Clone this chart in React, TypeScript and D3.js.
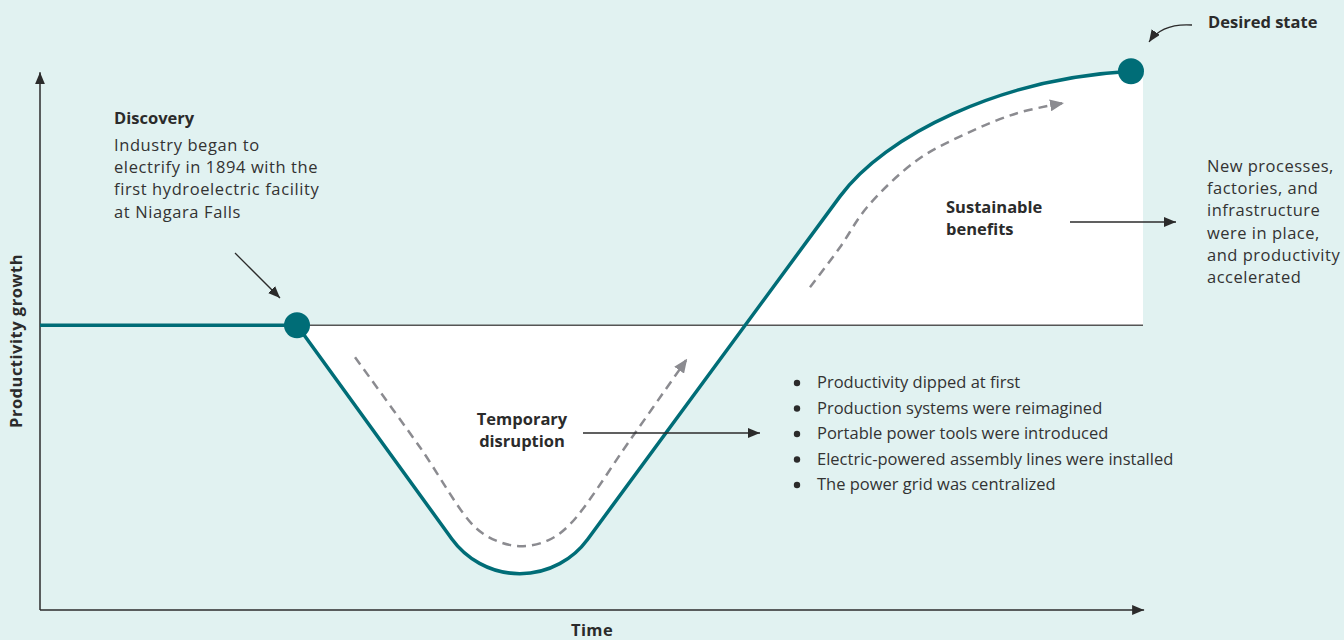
import { FC } from 'react';
import * as d3 from 'd3';

// key points of the productivity curve (time 0-100, productivity relative to baseline 0)
const flatTime = [0, 23.3];
const flatValue = [0, 0];
// discovery -> trough (virtual corner of the V) -> bend start -> bezier controls -> desired state
const pathTime = [23.3, 43.46, 72.53, 76.61, 87.04, 98.91];
const pathValue = [0, -120.7, 50.7, 74.7, 97.1, 99.9];

// dashed trend arrows
const dipTime = [28.56, 34.45, 39.44, 41.7, 43.79, 46.06, 48.05, 53.49, 58.57];
const dipValue = [-12.6, -48.0, -79.4, -85.3, -86.9, -84.6, -78.3, -45.2, -13.8];
const riseTime = [69.81, 72.53, 74.98, 79.51, 84.04, 88.58, 92.66];
const riseValue = [14.9, 30.7, 46.4, 64.9, 75.5, 83.4, 87.3];

const discoveryTitle = 'Discovery';
const discoveryLines = ['Industry began to', 'electrify in 1894 with the', 'first hydroelectric facility', 'at Niagara Falls'];
const desiredLabel = 'Desired state';
const sustainLines = ['Sustainable', 'benefits'];
const resultLines = ['New processes,', 'factories, and', 'infrastructure', 'were in place,', 'and productivity', 'accelerated'];
const disruptLines = ['Temporary', 'disruption'];
const bullets = [
    'Productivity dipped at first',
    'Production systems were reimagined',
    'Portable power tools were introduced',
    'Electric-powered assembly lines were installed',
    'The power grid was centralized',
];

const W = 1344;
const H = 640;
const teal = '#006d77';
const ink = '#2b2b2b';
const gray = '#8b8b90';
const bg = '#e1f2f1';
const font = '"Open Sans", Lato, sans-serif';
const fs = 16.5;

const App: FC = () => {
    const x = d3.scaleLinear().domain([0, 100]).range([40, 1143]);
    const y = d3.scaleLinear().domain([-112, 100]).range([610, 71]);

    const P = pathTime.map((t, i) => [x(t), y(pathValue[i])]);

    // discovery down into a rounded trough, straight climb, then easing into the desired state
    const curvePath = (closeArea: boolean) => {
        const p = d3.path();
        p.moveTo(P[0][0], P[0][1]);
        p.arcTo(P[1][0], P[1][1], P[2][0], P[2][1], 84);
        p.lineTo(P[2][0], P[2][1]);
        p.bezierCurveTo(P[3][0], P[3][1], P[4][0], P[4][1], P[5][0], P[5][1]);
        if (closeArea) {
            p.lineTo(x(100), P[5][1]);
            p.lineTo(x(100), y(0));
            p.closePath();
        }
        return p.toString();
    };

    const flat = d3.line<number>()
        .x((_, i) => x(flatTime[i]))
        .y(d => y(d));

    const smooth = d3.line<[number, number]>()
        .x(d => x(d[0]))
        .y(d => y(d[1]))
        .curve(d3.curveCatmullRom.alpha(0.5));

    const dip = dipTime.map((t, i) => [t, dipValue[i]] as [number, number]);
    const rise = riseTime.map((t, i) => [t, riseValue[i]] as [number, number]);

    return (
        <div style={{ position: 'absolute', left: 0, top: 0 }}>
            <svg width={W} height={H} style={{ display: 'block' }} fontFamily={font}>
                <defs>
                    <marker id="blk" viewBox="0 0 12 10" refX="12" refY="5" markerWidth="12" markerHeight="10"
                            markerUnits="userSpaceOnUse" orient="auto">
                        <path d="M0,0L12,5L0,10Z" fill={ink} />
                    </marker>
                    <marker id="gry" viewBox="0 0 14 12" refX="12" refY="6" markerWidth="14" markerHeight="12"
                            markerUnits="userSpaceOnUse" orient="auto">
                        <path d="M0,0L14,6L0,12Z" fill={gray} />
                    </marker>
                </defs>
                <rect width={W} height={H} fill={bg} />

                <path d={curvePath(true)} fill="#fff" />

                {/* baseline */}
                <line x1={x(flatTime[1])} x2={x(100)} y1={y(0)} y2={y(0)} stroke="#555" strokeWidth={1.5} />

                {/* axes */}
                <line x1={x(0)} x2={x(0)} y1={y(-112)} y2={y(99.5)} stroke={ink} strokeWidth={1.5} markerEnd="url(#blk)" />
                <line x1={x(0)} x2={x(100.1)} y1={y(-112)} y2={y(-112)} stroke={ink} strokeWidth={1.5} markerEnd="url(#blk)" />

                {/* dashed trend arrows */}
                <path d={smooth(dip) ?? ''} fill="none" stroke={gray} strokeWidth={2.5} strokeDasharray="9 6" markerEnd="url(#gry)" />
                <path d={smooth(rise) ?? ''} fill="none" stroke={gray} strokeWidth={2.5} strokeDasharray="9 6" markerEnd="url(#gry)" />

                {/* main curve */}
                <path d={flat(flatValue) ?? ''} fill="none" stroke={teal} strokeWidth={3.5} />
                <path d={curvePath(false)} fill="none" stroke={teal} strokeWidth={3.5} strokeLinejoin="round" />
                <circle cx={P[0][0]} cy={P[0][1]} r={13} fill={teal} />
                <circle cx={P[5][0]} cy={P[5][1]} r={13} fill={teal} />

                {/* axis titles */}
                <text transform="translate(22,341) rotate(-90)" textAnchor="middle" fontSize={fs} fontWeight={700}
                      letterSpacing={0.5} fill={ink}>
                    Productivity growth
                </text>
                <text x={592} y={636} textAnchor="middle" fontSize={fs} fontWeight={700} letterSpacing={0.4} fill={ink}>Time</text>

                {/* discovery */}
                <text x={114} y={124} fontSize={fs} fontWeight={700} fill={ink}>{discoveryTitle}</text>
                {discoveryLines.map((s, i) => (
                    <text key={s} x={114} y={151 + i * 22.2} fontSize={fs} letterSpacing={0.6} fill="#333">{s}</text>
                ))}
                <line x1={235} y1={253} x2={280} y2={298} stroke={ink} strokeWidth={1.3} markerEnd="url(#blk)" />

                {/* desired state */}
                <text x={1208} y={28} fontSize={fs} fontWeight={700} fill={ink}>{desiredLabel}</text>
                <path d="M1192,25 Q1162,23 1149,42" fill="none" stroke={ink} strokeWidth={1.3} markerEnd="url(#blk)" />

                {/* sustainable benefits */}
                {sustainLines.map((s, i) => (
                    <text key={s} x={946} y={213 + i * 22} fontSize={fs} fontWeight={700} fill={ink}>{s}</text>
                ))}
                <line x1={1070} y1={222} x2={1176} y2={222} stroke={ink} strokeWidth={1.3} markerEnd="url(#blk)" />
                {resultLines.map((s, i) => (
                    <text key={s} x={1207} y={172 + i * 22.2} fontSize={fs} letterSpacing={0.5} fill="#333">{s}</text>
                ))}

                {/* temporary disruption */}
                {disruptLines.map((s, i) => (
                    <text key={s} x={522} y={425 + i * 22} textAnchor="middle" fontSize={fs} fontWeight={700} fill={ink}>{s}</text>
                ))}
                <line x1={583} y1={433} x2={760} y2={433} stroke={ink} strokeWidth={1.3} markerEnd="url(#blk)" />
                {bullets.map((s, i) => (
                    <g key={s}>
                        <circle cx={797} cy={383 + i * 25.5} r={3.2} fill={ink} />
                        <text x={817} y={388 + i * 25.5} fontSize={fs} fill="#333">{s}</text>
                    </g>
                ))}
            </svg>
        </div>
    );
};

export default App;
